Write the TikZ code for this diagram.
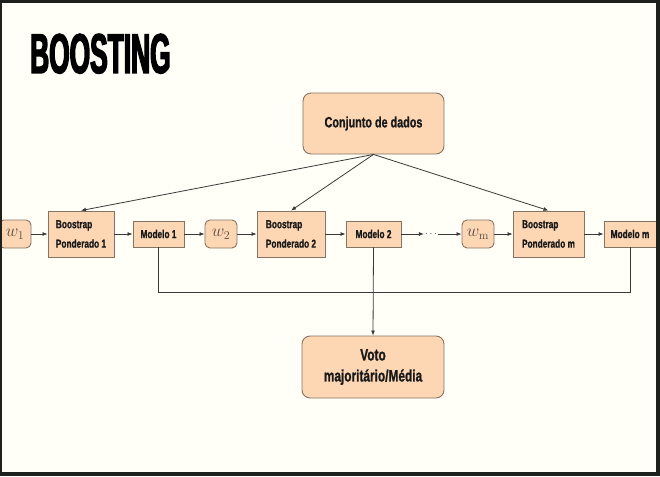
\documentclass[tikz,border=0pt]{standalone}
\usepackage{fontspec}
\usetikzlibrary{arrows.meta}
\newfontfamily\cf{Liberation Sans Bold}[FakeStretch=0.72,FakeBold=1]
\newfontfamily\tf{Liberation Sans Bold}[FakeStretch=0.47,FakeBold=2.5]
\definecolor{bg}{HTML}{FFFFF8}
\definecolor{peach}{HTML}{FDD7B4}
\definecolor{edge}{HTML}{857363}
\definecolor{wire}{HTML}{3A3A3A}
\definecolor{frame}{HTML}{1E201C}
\definecolor{wtext}{HTML}{5A4A3E}
\tikzset{
  box/.style={draw=edge, fill=peach, line width=0.9pt, inner sep=0pt, font=\cf\fontsize{11.5}{19.5}\selectfont, text=black!90},
  bigbox/.style={box, rounded corners=8pt, font=\cf\fontsize{15}{21}\selectfont},
  wbox/.style={box, rounded corners=5pt, minimum width=32pt, minimum height=28pt, font=\fontsize{17}{18}\selectfont, text=wtext},
  bsbox/.style={box, minimum height=46pt, align=left},
  mbox/.style={box, minimum height=26pt},
  arr/.style={draw=wire, line width=0.8pt, -{Latex[length=5pt,width=4pt]}},
  ln/.style={draw=wire, line width=0.8pt}
}
\begin{document}
\begin{tikzpicture}[x=1pt,y=-1pt]
\useasboundingbox (0,0) rectangle (660,476);
\fill[bg] (0,0) rectangle (660,476);
\node[anchor=base west, inner sep=0pt, font=\tf\fontsize{56}{56}\selectfont] (title) at (30,73) {BOOSTING};
\node[bigbox, minimum width=141pt, minimum height=61pt] (c) at (373.5,123.5) {Conjunto de dados};
\node[wbox] (w1) at (15,234) {$w_1$};
\node[bsbox, minimum width=66pt] (b1) at (81,234) {Boostrap\\Ponderado 1};
\node[mbox, minimum width=51pt] (m1) at (158.5,234) {Modelo 1};
\node[wbox] (w2) at (221,234) {$w_2$};
\node[bsbox, minimum width=68pt] (b2) at (291,234) {Boostrap\\Ponderado 2};
\node[mbox, minimum width=55pt] (m2) at (373.5,234) {Modelo 2};
\node[inner sep=1pt, text=wire] (dots) at (431,234) {$\cdots$};
\node[wbox] (wm) at (478,234) {$w_{\mathrm{m}}$};
\node[bsbox, minimum width=71pt] (bm) at (548.5,234) {Boostrap\\Ponderado m};
\node[mbox, minimum width=52pt] (mm) at (630,234) {Modelo m};
\node[bigbox, minimum width=142pt, minimum height=62pt, align=center, font=\cf\fontsize{16.5}{21}\selectfont] (v) at (373,367) {Voto\\majoritário/Média};
% arrows from data set
\draw[arr] (c.south) -- (b1.north);
\draw[arr] (c.south) -- (b2.north);
\draw[arr] (c.south) -- (bm.north);
% chain
\draw[arr] (w1) -- (b1);
\draw[arr] (b1) -- (m1);
\draw[arr] (m1) -- (w2);
\draw[arr] (w2) -- (b2);
\draw[arr] (b2) -- (m2);
\draw[arr] (m2) -- (dots);
\draw[arr] (dots) -- (wm);
\draw[arr] (wm) -- (bm);
\draw[arr] (bm) -- (mm);
% aggregation
\coordinate (jl) at (158.5,292);
\draw[ln] (m1.south) -- (jl) -| (mm.south);
\draw[arr] (m2.south) -- (v.north);
% frame
\fill[frame] (0,0) rectangle (660,3.5);
\fill[frame] (0,472) rectangle (660,476);
\fill[frame] (0,0) rectangle (2,476);
\fill[frame] (655.5,0) rectangle (660,476);
\end{tikzpicture}
\end{document}
